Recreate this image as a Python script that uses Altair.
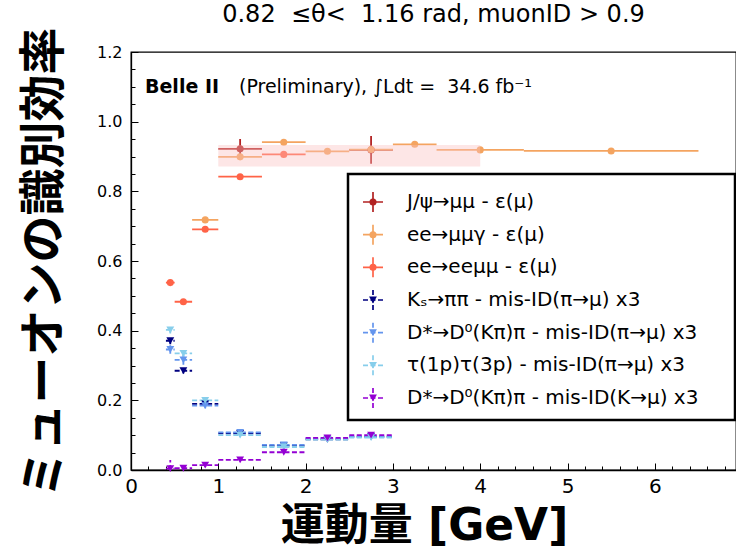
import altair as alt
import pandas as pd

# ---------------- data ----------------
series_names = [
    "J/ψ→μμ - ε(μ)",
    "ee→μμγ - ε(μ)",
    "ee→eeμμ - ε(μ)",
    "Kₛ→ππ - mis-ID(π→μ) x3",
    "D*→D⁰(Kπ)π - mis-ID(π→μ) x3",
    "τ(1p)τ(3p) - mis-ID(π→μ) x3",
    "D*→D⁰(Kπ)π - mis-ID(K→μ) x3",
]
series_colors = ["#b22222", "#f4a460", "#ff6347", "#000080", "#6495ed", "#87ceeb", "#9400d3"]
series_kind = ["eff", "eff", "eff", "mis", "mis", "mis", "mis"]

bin_lo = [0.4, 0.5, 0.7, 1.0, 1.5, 2.0, 2.5, 3.0, 3.5, 4.5]
bin_hi = [0.5, 0.7, 1.0, 1.5, 2.0, 2.5, 3.0, 3.5, 4.5, 6.5]

jpsi_bins = [3, 6]
jpsi_val = [0.922, 0.919]
jpsi_err = [0.028, 0.040]

mmg_bins = [2, 3, 4, 5, 6, 7, 8, 9]
mmg_val = [0.718, 0.899, 0.941, 0.915, 0.920, 0.935, 0.919, 0.916]
mmg_err = [0.004, 0.003, 0.003, 0.003, 0.003, 0.003, 0.003, 0.003]

eemm_bins = [0, 1, 2, 3, 4]
eemm_val = [0.538, 0.483, 0.691, 0.842, 0.906]
eemm_err = [0.006, 0.005, 0.005, 0.004, 0.004]

mis_bins = [0, 1, 2, 3, 4, 5, 6]
ks_val = [0.371, 0.285, 0.190, 0.105, 0.070, 0.088, 0.096]
ks_err = [0.010, 0.008, 0.006, 0.005, 0.004, 0.004, 0.004]
dpi_val = [0.346, 0.316, 0.185, 0.108, 0.072, 0.090, 0.095]
dpi_err = [0.012, 0.014, 0.008, 0.006, 0.005, 0.005, 0.005]
tau_val = [0.402, 0.335, 0.200, 0.100, 0.066, 0.087, 0.093]
tau_err = [0.010, 0.010, 0.007, 0.005, 0.004, 0.004, 0.004]
dk_val = [0.004, 0.005, 0.014, 0.029, 0.051, 0.092, 0.100]
dk_err = [0.025, 0.006, 0.004, 0.003, 0.003, 0.003, 0.003]

band_x = [1.0, 4.0]
band_y = [0.871, 0.933]

title_text = "0.82 \u00a0≤θ< \u00a01.16 rad, muonID > 0.9"
belle_text = ["Belle II"]
lumi_text = ["(Preliminary), ∫Ldt = \u00a034.6 fb⁻¹"]
x_title = "運動量 [GeV]"
y_title = "ミューオンの識別効率"

x_major = [0, 1, 2, 3, 4, 5, 6]
x_minor = [round(i * 0.2, 1) for i in range(35)]
y_major = [round(i * 0.2, 1) for i in range(7)]
y_minor = [round(i * 0.05, 2) for i in range(25)]

# ---------------- table ----------------
all_bins = [jpsi_bins, mmg_bins, eemm_bins, mis_bins, mis_bins, mis_bins, mis_bins]
all_vals = [jpsi_val, mmg_val, eemm_val, ks_val, dpi_val, tau_val, dk_val]
all_errs = [jpsi_err, mmg_err, eemm_err, ks_err, dpi_err, tau_err, dk_err]
rows = []
for name, kind, bins, vals, errs in zip(series_names, series_kind, all_bins, all_vals, all_errs):
    for b, v, e in zip(bins, vals, errs):
        rows.append(dict(series=name, kind=kind,
                         x=(bin_lo[b] + bin_hi[b]) / 2, xlo=bin_lo[b], xhi=bin_hi[b],
                         y=v, ylo=max(v - e, 0.0), yhi=v + e))
df = pd.DataFrame(rows)
band_df = pd.DataFrame({"x0": [band_x[0]], "x1": [band_x[1]], "y0": [band_y[0]], "y1": [band_y[1]]})
leg_df = pd.DataFrame({"series": series_names, "kind": series_kind, "row": list(range(len(series_names)))})

# ---------------- scales / axes ----------------
W, H = 605, 418
xs = alt.Scale(domain=[0, 6.93], nice=False, zero=False)
ys = alt.Scale(domain=[0, 1.2], nice=False, zero=False)
col = alt.Scale(domain=series_names, range=series_colors)
dash = alt.Scale(domain=["eff", "mis"], range=[[1, 0], [5, 2.5]])
ly = alt.Scale(domain=[0, 6], range=[150, 346], nice=False, zero=False)

LAB = "DejaVu Sans"
CJK = "DejaVu Sans, Noto Sans CJK JP"

ax_x_main = alt.Axis(orient="bottom", values=x_major, format="d", ticks=False, tickSize=0,
                     labelPadding=6, labelFontSize=20, labelFont=LAB, labelColor="black",
                     labelFlush=False, labelOverlap=False,
                     domain=True, domainColor="black", domainWidth=1.3, grid=False,
                     title=x_title, titleFont=CJK, titleFontSize=44, titleFontWeight="bold",
                     titleColor="black", titleX=293, titleY=56, titleBaseline="middle",
                     titleAlign="center")
ax_y_main = alt.Axis(orient="left", values=y_major, format=".1f", ticks=False, tickSize=0,
                     labelPadding=9, labelFontSize=16, labelFont=LAB, labelColor="black",
                     labelOverlap=False,
                     domain=True, domainColor="black", domainWidth=1.3, grid=False,
                     title=y_title, titleFont=CJK, titleFontSize=47, titleFontWeight="bold",
                     titleColor="black", titleX=-87, titleY=210, titleAngle=270,
                     titleBaseline="middle", titleAlign="center")
ax_x_major = alt.Axis(orient="bottom", values=x_major, labels=False, domain=False, grid=False,
                      tickSize=7, tickColor="black", tickWidth=1, offset=-7, title=None)
ax_y_major = alt.Axis(orient="left", values=y_major, labels=False, domain=False, grid=False,
                      tickSize=7, tickColor="black", tickWidth=1, offset=-7, title=None)
ax_x_minor = alt.Axis(orient="bottom", values=x_minor, labels=False, domain=False, grid=False,
                      tickSize=4, tickColor="black", tickWidth=1, offset=-4, title=None)
ax_y_minor = alt.Axis(orient="left", values=y_minor, labels=False, domain=False, grid=False,
                      tickSize=4, tickColor="black", tickWidth=1, offset=-4, title=None)

base = alt.Chart(df)

hbar = base.mark_rule(strokeWidth=1.8).encode(
    x=alt.X("xlo:Q", scale=xs, axis=ax_x_main),
    x2="xhi:Q",
    y=alt.Y("y:Q", scale=ys, axis=ax_y_main),
    color=alt.Color("series:N", scale=col, legend=None),
    strokeDash=alt.StrokeDash("kind:N", scale=dash, legend=None),
)
vbar = base.mark_rule(strokeWidth=1.8).encode(
    x=alt.X("x:Q", scale=xs, axis=ax_x_major),
    y=alt.Y("ylo:Q", scale=ys, axis=ax_y_major),
    y2="yhi:Q",
    color=alt.Color("series:N", scale=col, legend=None),
    strokeDash=alt.StrokeDash("kind:N", scale=dash, legend=None),
)
circles = base.transform_filter(alt.datum.kind == "eff").mark_point(
    filled=True, opacity=1, size=50, shape="circle").encode(
    x=alt.X("x:Q", scale=xs, axis=ax_x_minor),
    y=alt.Y("y:Q", scale=ys, axis=ax_y_minor),
    color=alt.Color("series:N", scale=col, legend=None),
)
tris = base.transform_filter(alt.datum.kind == "mis").mark_point(
    filled=True, opacity=1, size=62, shape="triangle-down").encode(
    x=alt.X("x:Q", scale=xs, axis=None),
    y=alt.Y("y:Q", scale=ys, axis=None),
    color=alt.Color("series:N", scale=col, legend=None),
)
band = alt.Chart(band_df).mark_rect(color="#f9c0c0", opacity=0.4).encode(
    x=alt.X("x0:Q", scale=xs, axis=None), x2="x1:Q",
    y=alt.Y("y0:Q", scale=ys, axis=None), y2="y1:Q",
)

belle = alt.Chart(pd.DataFrame({"t": belle_text})).mark_text(
    align="left", baseline="alphabetic", font=LAB, fontSize=19, fontWeight="bold", color="black"
).encode(text="t:N", x=alt.value(14), y=alt.value(41))
lumi = alt.Chart(pd.DataFrame({"t": lumi_text})).mark_text(
    align="left", baseline="alphabetic", font=LAB, fontSize=19, color="black"
).encode(text="t:N", x=alt.value(108), y=alt.value(41))

# ---------------- legend (error-bar cross + marker per entry) ----------------
SYM_X = 242
leg_box = alt.Chart(pd.DataFrame({"b": [0]})).mark_rect(
    fill="white", stroke="black", strokeWidth=2.5
).encode(x=alt.value(217), x2=alt.value(604), y=alt.value(122), y2=alt.value(368))
leg_base = alt.Chart(leg_df)
leg_h = leg_base.mark_rule(strokeWidth=1.7).encode(
    x=alt.value(SYM_X - 10), x2=alt.value(SYM_X + 10),
    y=alt.Y("row:Q", scale=ly, axis=None),
    color=alt.Color("series:N", scale=col, legend=None),
    strokeDash=alt.StrokeDash("kind:N", scale=dash, legend=None),
)
leg_v = leg_base.mark_rule(strokeWidth=1.7, yOffset=-10, y2Offset=10).encode(
    x=alt.value(SYM_X),
    y=alt.Y("row:Q", scale=ly, axis=None), y2="row:Q",
    color=alt.Color("series:N", scale=col, legend=None),
    strokeDash=alt.StrokeDash("kind:N", scale=dash, legend=None),
)
leg_c = leg_base.transform_filter(alt.datum.kind == "eff").mark_point(
    filled=True, opacity=1, size=50, shape="circle").encode(
    x=alt.value(SYM_X), y=alt.Y("row:Q", scale=ly, axis=None),
    color=alt.Color("series:N", scale=col, legend=None),
)
leg_t = leg_base.transform_filter(alt.datum.kind == "mis").mark_point(
    filled=True, opacity=1, size=62, shape="triangle-down").encode(
    x=alt.value(SYM_X), y=alt.Y("row:Q", scale=ly, axis=None),
    color=alt.Color("series:N", scale=col, legend=None),
)
leg_lab = leg_base.mark_text(align="left", baseline="middle", font=LAB, fontSize=20,
                             color="black").encode(
    x=alt.value(276), y=alt.Y("row:Q", scale=ly, axis=None), text="series:N",
)

chart = alt.layer(
    hbar, vbar, circles, tris, band, belle, lumi,
    leg_box, leg_h, leg_v, leg_c, leg_t, leg_lab
).resolve_axis(
    x="independent", y="independent"
).resolve_scale(
    y="independent"
).properties(
    width=W, height=H,
    title=alt.TitleParams(text=title_text, fontSize=24, font=LAB, fontWeight="normal",
                          color="black", anchor="middle", frame="group", offset=0),
    autosize=alt.AutoSizeParams(type="none"),
    padding={"left": 131, "top": 52, "right": 0, "bottom": 83},
).configure_view(stroke="black", strokeWidth=1.3)

chart.save("out.html", embed_options={"renderer": "svg", "actions": False})
